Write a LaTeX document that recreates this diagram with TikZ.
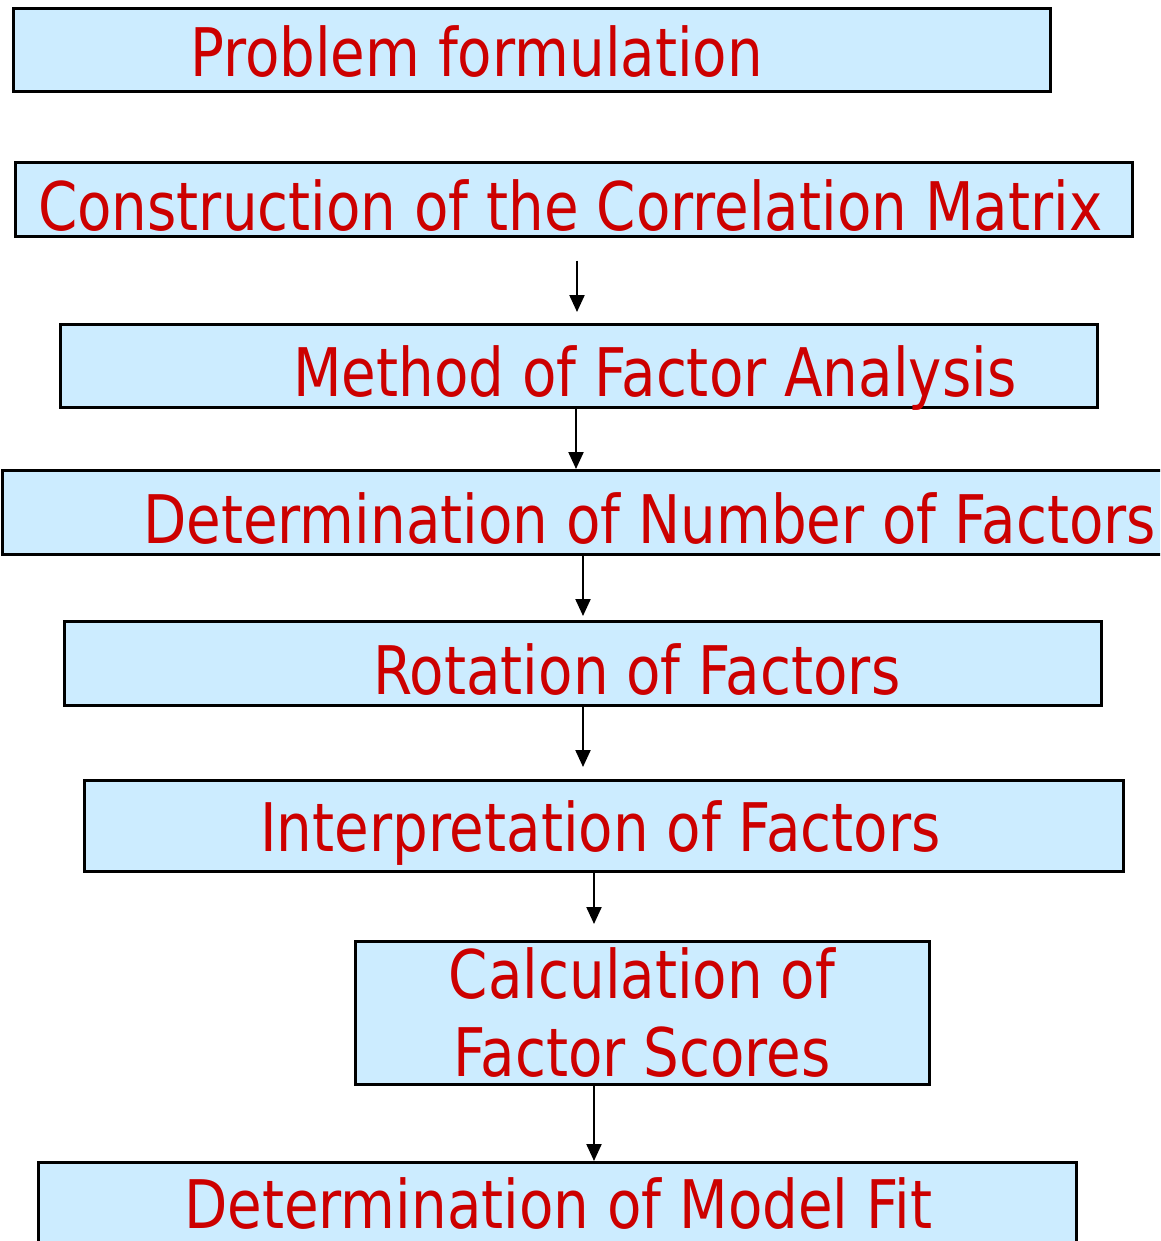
\documentclass[tikz,border=0pt]{standalone}
\usepackage{fontspec}
\setmainfont[FakeStretch=0.84]{DejaVu Sans}
\usepackage{xcolor}
\definecolor{boxblue}{RGB}{204,236,255}
\definecolor{txtred}{RGB}{204,0,0}
\usetikzlibrary{arrows.meta}
\tikzset{
  stage/.style={draw=black,fill=boxblue,line width=2.6pt,anchor=north west,inner sep=0pt},
  lbl/.style={text=txtred,inner sep=0pt,font=\fontsize{67pt}{78pt}\selectfont},
  flow/.style={-{Triangle[length=17pt,width=15pt]},draw=black,line width=2.2pt},
}
\begin{document}
\begin{tikzpicture}[x=1pt,y=-1pt]
\useasboundingbox (0,0) rectangle (1160,1241);
\clip (0,0) rectangle (1160,1241);
% columns of the arrows
\coordinate (c1) at (577,0);
\coordinate (c2) at (576,0);
\coordinate (c3) at (583,0);
\coordinate (c4) at (594,0);

% stages
\node[stage,minimum width=1037pt,minimum height=83pt] (b1) at (12,7) {};
\node[lbl,anchor=base west] (t1) at (190,77) {Problem formulation};

\node[stage,minimum width=1117pt,minimum height=74pt] (b2) at (14,161) {};
\node[lbl,anchor=base west] (t2) at (38,231) {Construction of the Correlation Matrix};

\node[stage,minimum width=1037pt,minimum height=83pt] (b3) at (59,323) {};
\node[lbl,anchor=base west] (t3) at (293,396) {Method of Factor Analysis};

\node[stage,minimum width=1170pt,minimum height=84pt] (b4) at (1,469) {};
\node[lbl,anchor=base west] (t4) at (143,543) {Determination of Number of Factors};

\node[stage,minimum width=1037pt,minimum height=84pt] (b5) at (63,620) {};
\node[lbl,anchor=base west] (t5) at (373,694) {Rotation of Factors};

\node[stage,minimum width=1039pt,minimum height=91pt] (b6) at (83,779) {};
\node[lbl,anchor=base west] (t6) at (260,851) {Interpretation of Factors};

\node[stage,minimum width=574pt,minimum height=143pt] (b7) at (354,940) {};
\node[lbl,align=center,anchor=north] (t7) at (642,947) {Calculation of\\Factor Scores};

\node[stage,minimum width=1038pt,minimum height=100pt] (b8) at (37,1161) {};
\node[lbl,anchor=base west] (t8) at (184,1228) {Determination of Model Fit};

% arrows
\draw[flow,shorten <=23pt,shorten >=11pt] (b2.south -| c1) -- (b3.north -| c1);
\draw[flow] (b3.south -| c2) -- (b4.north -| c2);
\draw[flow,shorten >=4pt] (b4.south -| c3) -- (b5.north -| c3);
\draw[flow,shorten >=12pt] (b5.south -| c3) -- (b6.north -| c3);
\draw[flow,shorten >=16pt] (b6.south -| c4) -- (b7.north -| c4);
\draw[flow] (b7.south -| c4) -- (b8.north -| c4);
\end{tikzpicture}
\end{document}
